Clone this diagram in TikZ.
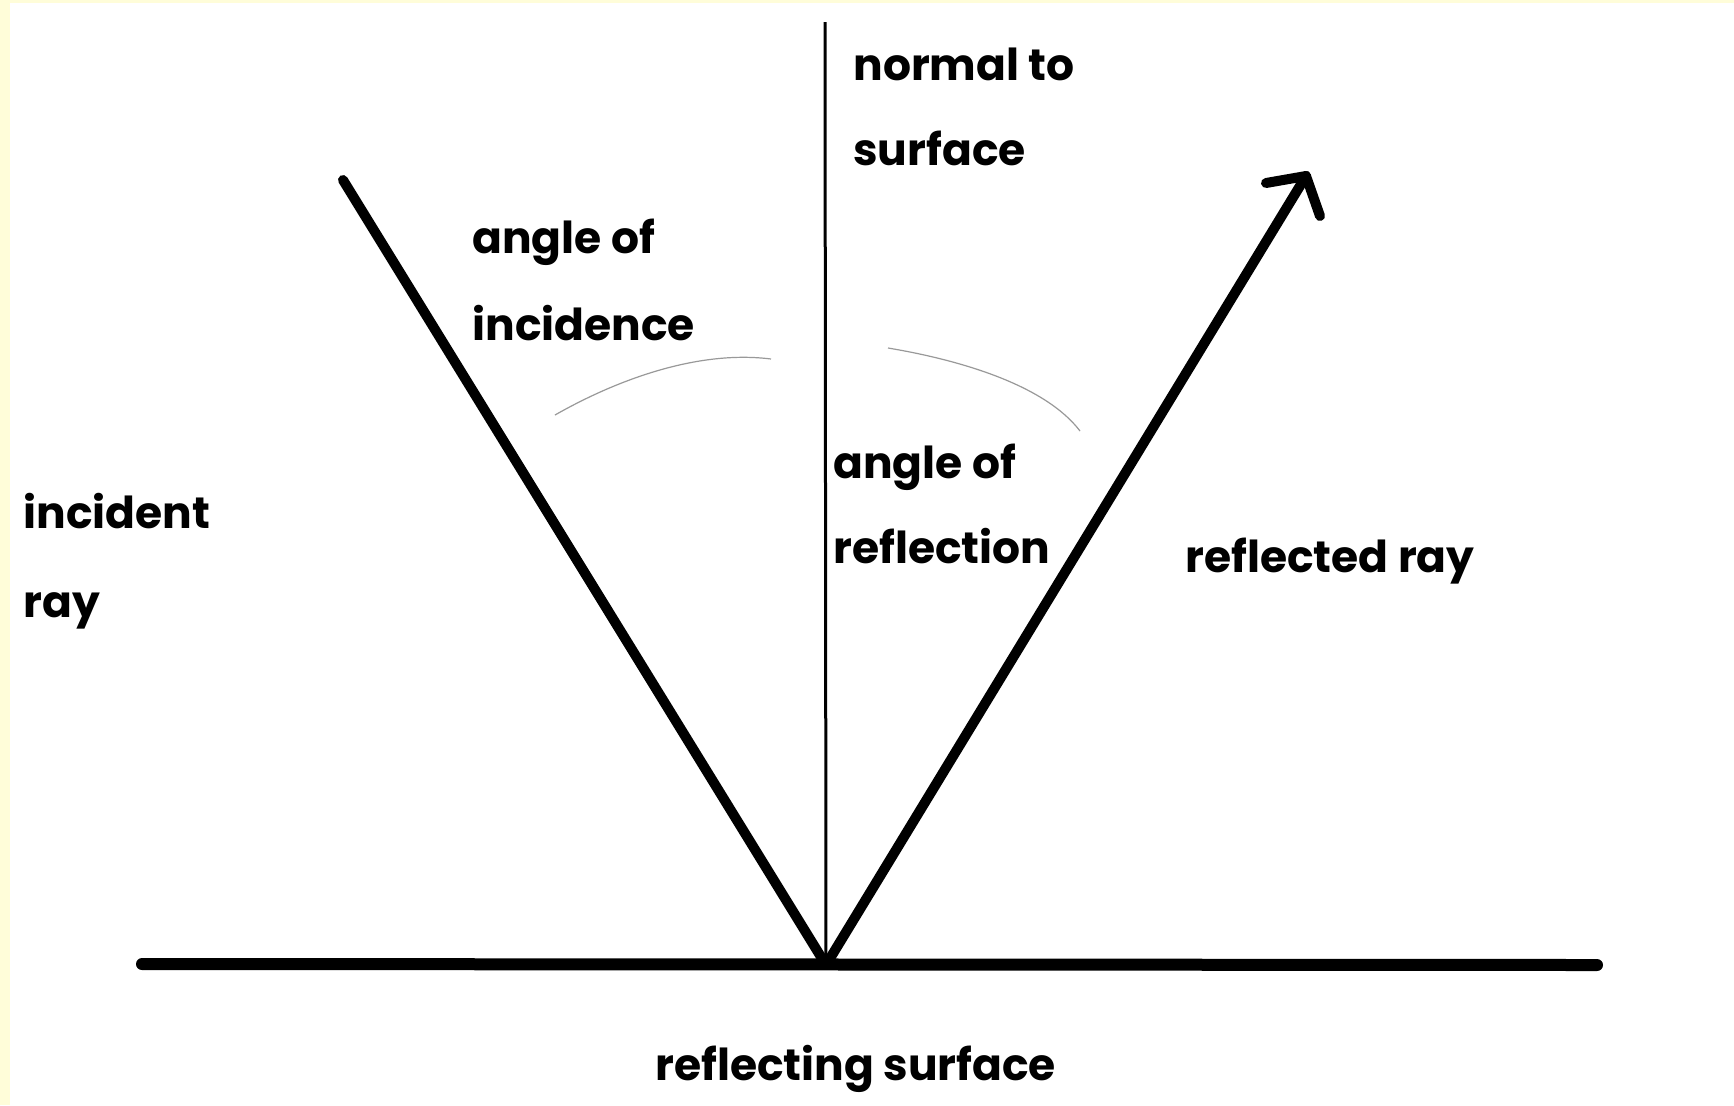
\documentclass[tikz,border=0pt]{standalone}
\usepackage{fontspec}
\setmainfont{Poppins}
\begin{document}
\begin{tikzpicture}[x=0.5pt,y=-0.5pt,
  lbl/.style={anchor=base west,inner sep=0pt,font=\fontsize{22}{26}\selectfont\bfseries},
  ray/.style={line width=5pt,line cap=round},
  surf/.style={line width=6pt,line cap=round},
  normalline/.style={line width=1.5pt},
  anglearc/.style={line width=0.6pt,draw=black!40}]
\fill[yellow!15] (0,0) rectangle (1734,1105);
\fill[white] (10,3) rectangle (1734,1105);
\useasboundingbox (0,0) rectangle (1734,1105);
% coordinates
\coordinate (P) at (826,965);
\coordinate (SL) at (142,964);
\coordinate (SR) at (1597,965);
\coordinate (NT) at (825,22);
\coordinate (IS) at (343,180);
\coordinate (RT) at (1306,176);
\coordinate (B1) at (1266,183);
\coordinate (B2) at (1320,216);
\coordinate (LA1) at (555,415);
\coordinate (LA2) at (771,359);
\coordinate (RA1) at (888,348);
\coordinate (RA2) at (1080,431);
% lines
\draw[surf] (SL) -- (SR);
\draw[normalline] (P) -- (NT);
\draw[ray] (IS) -- (P);
\draw[ray] (P) -- (RT);
\draw[ray] (B1) -- (RT);
\draw[ray] (RT) -- (B2);
% arcs
\draw[anglearc] (LA1) .. controls (620,378) and (700,350) .. (LA2);
\draw[anglearc] (RA1) .. controls (960,360) and (1045,385) .. (RA2);
% labels
\node[lbl] (n1) at (853,80) {normal to};
\node[lbl] (n2) at (853,165) {surface};
\node[lbl] (a1) at (472,253) {angle of};
\node[lbl] (a2) at (472,340) {incidence};
\node[lbl] (i1) at (23,528) {incident};
\node[lbl] (i2) at (23,617) {ray};
\node[lbl] (r1) at (833,478) {angle of};
\node[lbl] (r2) at (833,563) {reflection};
\node[lbl] (rr) at (1185,572) {reflected ray};
\node[lbl] (rs) at (655,1080) {reflecting surface};
\end{tikzpicture}
\end{document}
